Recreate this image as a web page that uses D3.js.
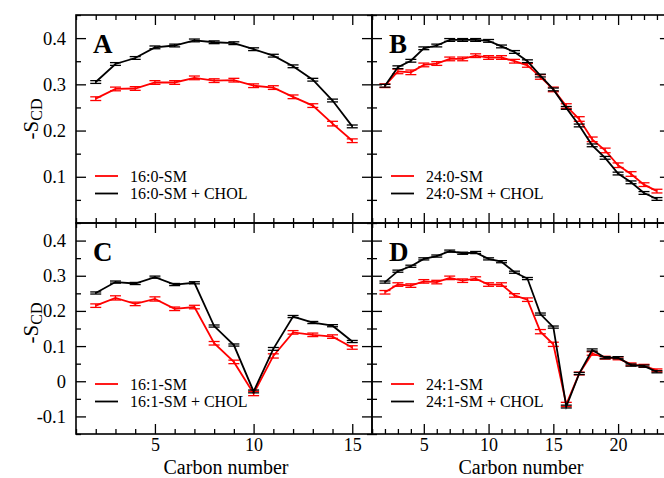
<!DOCTYPE html>
<html><head><meta charset="utf-8">
<script src="https://cdn.jsdelivr.net/npm/d3@7"></script>
<style>html,body{margin:0;padding:0;background:#fff;overflow:hidden;}svg{display:block;}</style>
</head><body><svg id="c" width="664" height="478"></svg>
<script>
// ---- data ----
const carbons16 = [2,3,4,5,6,7,8,9,10,11,12,13,14,15];
const carbons24 = [2,3,4,5,6,7,8,9,10,11,12,13,14,15,16,17,18,19,20,21,22,23];

const sm160      = [0.269,0.290,0.291,0.304,0.304,0.314,0.308,0.309,0.297,0.293,0.273,0.254,0.215,0.178];
const sm160Chol  = [0.305,0.344,0.357,0.380,0.384,0.395,0.391,0.389,0.376,0.362,0.339,0.310,0.265,0.209];
const err160     = [0.004,0.004,0.004,0.004,0.004,0.004,0.004,0.004,0.004,0.004,0.004,0.004,0.005,0.004];
const err160Chol = [0.003,0.003,0.003,0.003,0.003,0.003,0.003,0.003,0.003,0.003,0.003,0.003,0.003,0.003];

const sm240      = [0.297,0.328,0.326,0.342,0.345,0.355,0.355,0.362,0.358,0.358,0.350,0.341,0.316,0.289,0.253,0.225,0.181,0.157,0.125,0.106,0.083,0.069];
const sm240Chol  = [0.297,0.337,0.351,0.378,0.384,0.396,0.396,0.396,0.394,0.382,0.370,0.350,0.319,0.289,0.249,0.211,0.168,0.141,0.107,0.088,0.065,0.052];
const err240     = [0.004,0.005,0.005,0.004,0.004,0.004,0.004,0.004,0.004,0.004,0.004,0.004,0.005,0.005,0.005,0.005,0.005,0.005,0.005,0.005,0.004,0.004];
const err240Chol = [0.003,0.003,0.003,0.003,0.003,0.003,0.003,0.003,0.003,0.003,0.003,0.003,0.003,0.003,0.003,0.003,0.003,0.003,0.003,0.003,0.003,0.003];

const sm161      = [0.215,0.237,0.220,0.234,0.206,0.211,0.108,0.055,-0.035,0.072,0.139,0.132,0.127,0.096];
const sm161Chol  = [0.251,0.282,0.278,0.296,0.275,0.280,0.157,0.103,-0.029,0.092,0.184,0.167,0.158,0.113];
const err161     = [0.005,0.006,0.005,0.006,0.005,0.005,0.005,0.005,0.006,0.006,0.005,0.005,0.005,0.005];
const err161Chol = [0.003,0.003,0.003,0.003,0.003,0.003,0.003,0.003,0.004,0.004,0.003,0.003,0.003,0.003];

const sm241      = [0.253,0.275,0.272,0.284,0.282,0.294,0.286,0.292,0.275,0.275,0.244,0.232,0.141,0.105,-0.066,0.022,0.079,0.067,0.065,0.048,0.044,0.031];
const sm241Chol  = [0.282,0.313,0.327,0.348,0.356,0.370,0.364,0.366,0.348,0.340,0.310,0.292,0.191,0.154,-0.072,0.022,0.089,0.067,0.067,0.046,0.043,0.027];
const err241     = [0.005,0.005,0.005,0.005,0.005,0.005,0.005,0.005,0.005,0.005,0.005,0.005,0.006,0.006,0.006,0.004,0.005,0.004,0.004,0.004,0.004,0.004];
const err241Chol = [0.003,0.003,0.003,0.003,0.003,0.003,0.003,0.003,0.003,0.003,0.003,0.003,0.003,0.003,0.004,0.003,0.003,0.003,0.003,0.003,0.003,0.003];

const yTicksTop = [0.1,0.2,0.3,0.4];
const yTicksBottom = [-0.1,0,0.1,0.2,0.3,0.4];
const xTicks16 = [5,10,15];
const xTicks24 = [5,10,15,20];

const panels = [
  {letter:"A", x0:76, x1:372, xd:[1,16], y0:15, y1:223, yd:[0,0.45], carbons:carbons16, red:sm160, black:sm160Chol, eRed:err160, eBlack:err160Chol,
   names:["16:0-SM","16:0-SM + CHOL"], xTicks:xTicks16, yTicks:yTicksTop, showX:false, showY:true, labelY:119},
  {letter:"B", x0:372, x1:669.9, xd:[1,24], y0:15, y1:223, yd:[0,0.45], carbons:carbons24, red:sm240, black:sm240Chol, eRed:err240, eBlack:err240Chol,
   names:["24:0-SM","24:0-SM + CHOL"], xTicks:xTicks24, yTicks:yTicksTop, showX:false, showY:false},
  {letter:"C", x0:76, x1:372, xd:[1,16], y0:223, y1:434, yd:[-0.15,0.45], carbons:carbons16, red:sm161, black:sm161Chol, eRed:err161, eBlack:err161Chol,
   names:["16:1-SM","16:1-SM + CHOL"], xTicks:xTicks16, yTicks:yTicksBottom, showX:true, showY:true, labelY:323},
  {letter:"D", x0:372, x1:669.9, xd:[1,24], y0:223, y1:434, yd:[-0.15,0.45], carbons:carbons24, red:sm241, black:sm241Chol, eRed:err241, eBlack:err241Chol,
   names:["24:1-SM","24:1-SM + CHOL"], xTicks:xTicks24, yTicks:yTicksBottom, showX:true, showY:false}
];

const svg = d3.select("#c");
const SERIF = "Liberation Serif";
const RED = "#ff0000", BLACK = "#000000";

function range1(a,b){ const r=[]; for(let i=a;i<=b;i++) r.push(i); return r; }

panels.forEach(p => {
  const x = d3.scaleLinear().domain(p.xd).range([p.x0,p.x1]);
  const y = d3.scaleLinear().domain(p.yd).range([p.y1,p.y0]);
  const g = svg.append("g");

  const xMinor = range1(Math.ceil(p.xd[0]), Math.floor(p.xd[1])).filter(v => !p.xTicks.includes(v));
  const yMinor = d3.range(Math.round(p.yd[0]*20), Math.round(p.yd[1]*20)+1).map(v=>v/20).filter(v => Math.abs(Math.round(v*20)) % 2 === 1);

  function styleAxis(sel, fs){
    sel.attr("font-family",SERIF);
    sel.select(".domain").remove();
    sel.selectAll("line").attr("stroke","#000").attr("stroke-width",1.3);
    sel.selectAll("text").attr("font-family",SERIF).attr("font-size",fs || 18.5).attr("fill","#000");
  }
  // bottom
  g.append("g").attr("transform",`translate(0,${p.y1})`)
    .call(d3.axisBottom(x).tickValues(p.xTicks).tickSize(-10).tickPadding(4).tickFormat(p.showX ? d3.format("d") : ()=>""))
    .call(styleAxis, 18);
  g.append("g").attr("transform",`translate(0,${p.y1})`)
    .call(d3.axisBottom(x).tickValues(xMinor).tickSize(-5).tickFormat(()=>"")).call(styleAxis);
  // top
  g.append("g").attr("transform",`translate(0,${p.y0})`)
    .call(d3.axisTop(x).tickValues(p.xTicks).tickSize(-10).tickFormat(()=>"")).call(styleAxis);
  g.append("g").attr("transform",`translate(0,${p.y0})`)
    .call(d3.axisTop(x).tickValues(xMinor).tickSize(-5).tickFormat(()=>"")).call(styleAxis);
  // left
  g.append("g").attr("transform",`translate(${p.x0},0)`)
    .call(d3.axisLeft(y).tickValues(p.yTicks).tickSize(-10).tickPadding(10).tickFormat(p.showY ? (d => String(+d.toFixed(1))) : ()=>""))
    .call(styleAxis);
  g.append("g").attr("transform",`translate(${p.x0},0)`)
    .call(d3.axisLeft(y).tickValues(yMinor).tickSize(-5).tickFormat(()=>"")).call(styleAxis);
  // right
  g.append("g").attr("transform",`translate(${p.x1},0)`)
    .call(d3.axisRight(y).tickValues(p.yTicks).tickSize(-10).tickFormat(()=>"")).call(styleAxis);
  g.append("g").attr("transform",`translate(${p.x1},0)`)
    .call(d3.axisRight(y).tickValues(yMinor).tickSize(-5).tickFormat(()=>"")).call(styleAxis);

  // frame
  g.append("rect").attr("x",p.x0).attr("y",p.y0).attr("width",p.x1-p.x0).attr("height",p.y1-p.y0)
    .attr("fill","none").attr("stroke","#000").attr("stroke-width",1.6);

  // series
  const series = [{vals:p.red, err:p.eRed, color:RED},{vals:p.black, err:p.eBlack, color:BLACK}];
  series.forEach(s => {
    const pts = p.carbons.map((c,i)=>({c, v:s.vals[i], e:s.err[i]}));
    const line = d3.line().x(d=>x(d.c)).y(d=>y(d.v));
    g.append("path").datum(pts).attr("d",line).attr("fill","none").attr("stroke",s.color).attr("stroke-width",1.8);
    const eb = g.append("g").attr("stroke",s.color).attr("stroke-width",1.3);
    pts.forEach(d => {
      const xc = x(d.c), yt = y(d.v + d.e), yb = y(d.v - d.e);
      eb.append("line").attr("x1",xc).attr("x2",xc).attr("y1",yt).attr("y2",yb);
      eb.append("line").attr("x1",xc-5.5).attr("x2",xc+5.5).attr("y1",yt).attr("y2",yt);
      eb.append("line").attr("x1",xc-5.5).attr("x2",xc+5.5).attr("y1",yb).attr("y2",yb);
    });
  });

  // panel letter
  g.append("text").attr("x",p.x0+17).attr("y",p.y0+38).text(p.letter)
    .attr("font-family",SERIF).attr("font-weight","bold").attr("font-size",27).attr("fill","#000");

  // legend
  const lx = p.x0 + 19, ly = p.y1 - (p.y0===15 ? 47 : 50);
  [[RED,p.names[0]],[BLACK,p.names[1]]].forEach((it,i) => {
    const yy = ly + i*17.5;
    g.append("line").attr("x1",lx).attr("x2",lx+23).attr("y1",yy).attr("y2",yy).attr("stroke",it[0]).attr("stroke-width",1.8);
    g.append("text").attr("x",lx+35).attr("y",yy).attr("dy","0.35em").text(it[1])
      .attr("font-family",SERIF).attr("font-size",16).attr("fill","#000");
  });

  // y label
  if (p.showY) {
    const t = g.append("text").attr("transform",`translate(38,${p.labelY}) rotate(-90)`).attr("text-anchor","middle")
      .attr("font-family",SERIF).attr("font-size",21).attr("fill","#000");
    t.append("tspan").text("-S");
    t.append("tspan").text("CD").attr("font-size",16).attr("dy",4);
  }
  // x label
  if (p.showX) {
    g.append("text").attr("x",(p.x0+Math.min(p.x1,664))/2 + (p.x0===76 ? 2 : 3)).attr("y",473.5).attr("text-anchor","middle")
      .attr("font-family",SERIF).attr("font-size",20).attr("fill","#000").text("Carbon number");
  }
});
</script></body></html>
